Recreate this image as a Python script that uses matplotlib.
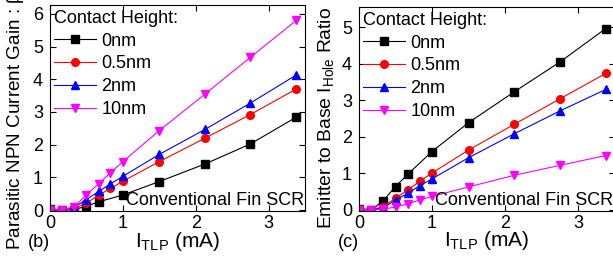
import matplotlib
matplotlib.use("Agg")
import matplotlib.pyplot as plt

plt.rcParams['font.family'] = ['Liberation Sans', 'DejaVu Sans']
plt.rcParams['mathtext.fontset'] = 'custom'
plt.rcParams['mathtext.rm'] = 'Liberation Sans'
plt.rcParams['mathtext.it'] = 'Liberation Sans'

# I_TLP (mA)
i_tlp = [0.0, 0.17, 0.33, 0.5, 0.67, 0.83, 1.0, 1.5, 2.13, 2.75, 3.38]
i_tlp_0nm_b = [0.0, 0.17, 0.33, 0.5, 0.67, 1.0, 1.5, 2.13, 2.75, 3.38]

labels = ['0nm', '0.5nm', '2nm', '10nm']
colors = ['black', 'red', 'blue', 'magenta']
markers = ['s', 'o', '^', 'v']

# (b) parasitic NPN current gain
gain_0nm = [0.02, 0.0, 0.01, 0.12, 0.25, 0.46, 0.87, 1.41, 2.02, 2.84]
gain_05nm = [0.02, 0.0, 0.05, 0.21, 0.46, 0.66, 0.88, 1.48, 2.2, 2.92, 3.7]
gain_2nm = [0.03, 0.01, 0.08, 0.32, 0.57, 0.8, 1.03, 1.7, 2.47, 3.27, 4.13]
gain_10nm = [0.01, 0.0, 0.1, 0.46, 0.81, 1.14, 1.48, 2.43, 3.55, 4.67, 5.8]

# (c) emitter to base hole current ratio
ratio_0nm = [0.02, 0.0, 0.25, 0.64, 0.98, 1.6, 2.39, 3.24, 4.05, 4.97]
ratio_05nm = [0.02, 0.0, 0.09, 0.32, 0.55, 0.78, 1.01, 1.64, 2.35, 3.04, 3.74]
ratio_2nm = [0.03, 0.01, 0.05, 0.27, 0.46, 0.66, 0.85, 1.43, 2.09, 2.71, 3.3]
ratio_10nm = [0.01, 0.0, 0.02, 0.08, 0.17, 0.27, 0.37, 0.63, 0.95, 1.22, 1.49]

fig = plt.figure(figsize=(6.13, 2.6), dpi=100)
ax1 = fig.add_axes([50/613, 49/260, 255/613, 206/260])
ax2 = fig.add_axes([359/613, 49/260, 255.5/613, 204/260])


def draw(ax, series, ylim, yticks):
    for (xs, ys), lab, c, m in zip(series, labels, colors, markers):
        ax.plot(xs, ys, color=c, marker=m, markersize=5.5, linewidth=0.8, label=lab)
    ax.set_xlim(0, 3.5)
    ax.set_ylim(*ylim)
    ax.set_xticks([0, 1, 2, 3])
    ax.set_yticks(yticks)
    ax.tick_params(direction='in', top=True, right=True, labelsize=13, length=4)
    ax.tick_params(axis='x', pad=3)
    ax.tick_params(axis='y', pad=5)
    ax.legend(title='Contact Height:', loc='upper left', bbox_to_anchor=(0.01, 0.985),
              frameon=False, fontsize=13, title_fontsize=13, handlelength=2.3,
              labelspacing=0.32, handletextpad=0.3, borderaxespad=0.0,
              borderpad=0.1, alignment='left')
    ax.text(0.995, 0.01, 'Conventional Fin SCR', transform=ax.transAxes,
            ha='right', va='bottom', fontsize=13)
    ax.set_xlabel(r'$\mathregular{I_{TLP}}$ (mA)', fontsize=15)
    ax.xaxis.set_label_coords(0.5, -0.09)


draw(ax1, [(i_tlp_0nm_b, gain_0nm), (i_tlp, gain_05nm), (i_tlp, gain_2nm), (i_tlp, gain_10nm)],
     (-0.03, 6.27), [0, 1, 2, 3, 4, 5, 6])
draw(ax2, [(i_tlp_0nm_b, ratio_0nm), (i_tlp, ratio_05nm), (i_tlp, ratio_2nm), (i_tlp, ratio_10nm)],
     (-0.03, 5.56), [0, 1, 2, 3, 4, 5])

ax1.set_ylabel(r'Parasitic NPN Current Gain : $\beta$', fontsize=13.6)
ax1.yaxis.set_label_coords(-0.095, 0.44)
ax2.set_ylabel(r'Emitter to Base $\mathregular{I_{Hole}}$ Ratio', fontsize=13.9)
ax2.yaxis.set_label_coords(-0.09, 0.455)

fig.text(28/613, 1 - 251/260, '(b)', fontsize=13, va='bottom')
fig.text(338/613, 1 - 251/260, '(c)', fontsize=13, va='bottom')

fig.savefig('out.png', dpi=100)
